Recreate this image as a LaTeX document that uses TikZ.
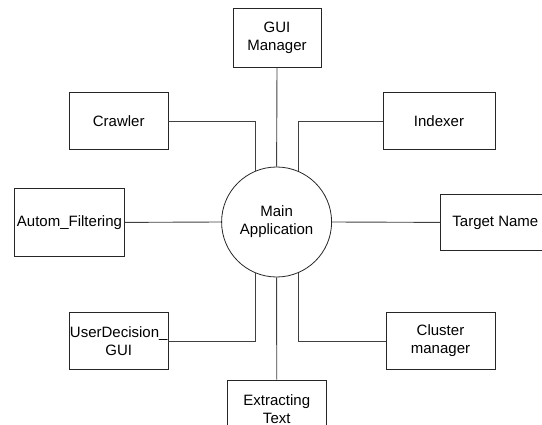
\documentclass[tikz,border=0pt]{standalone}
\usepackage{fontspec}
\setmainfont{Liberation Sans}
\begin{document}
\begin{tikzpicture}[x=1pt,y=-1pt,
  box/.style={draw=black!85, line width=0.8pt, rectangle, inner sep=0pt, align=center,
    font=\fontsize{15}{18}\selectfont},
  hub/.style={draw=black!85, line width=0.8pt, circle, inner sep=0pt, minimum size=110pt,
    align=center, font=\fontsize{15}{18}\selectfont},
  link/.style={draw=black!75, line width=0.9pt}]
\useasboundingbox (0,0) rectangle (542,425);
\begin{scope}
\clip (0,0) rectangle (542,425);
\node[hub] (main) at (276.6,222) {Main\\Application};
\node[box, minimum width=88pt, minimum height=59pt] (gui) at (277,38) {GUI\\Manager};
\node[box, minimum width=98.5pt, minimum height=56.7pt] (crawler) at (118.75,121) {Crawler};
\node[box, minimum width=112pt, minimum height=56.7pt] (indexer) at (439,121) {Indexer};
\node[box, minimum width=110pt, minimum height=67.4pt] (autom) at (69.5,222.4) {Autom\_Filtering};
\node[box, minimum width=109.3pt, minimum height=56.6pt] (target) at (495.4,222.4) {Target Name};
\node[box, minimum width=98.5pt, minimum height=56.4pt] (user) at (118.75,341) {UserDecision\_\\GUI};
\node[box, minimum width=109pt, minimum height=56.4pt] (cluster) at (440.5,341) {Cluster\\manager};
\node[box, minimum width=98.5pt, minimum height=58pt] (extract) at (276.75,409) {Extracting\\Text};
\draw[link] (main.north) -- (gui.south);
\draw[link] (main.south) -- (extract.north);
\draw[link] (main.west) -- (autom.east);
\draw[link] (main.east) -- (target.west);
\draw[link] (crawler.east) -| (main.113);
\draw[link] (indexer.west) -| (main.67);
\draw[link] (user.east) -| (main.247);
\draw[link] (cluster.west) -| (main.293);
\end{scope}
\end{tikzpicture}
\end{document}
